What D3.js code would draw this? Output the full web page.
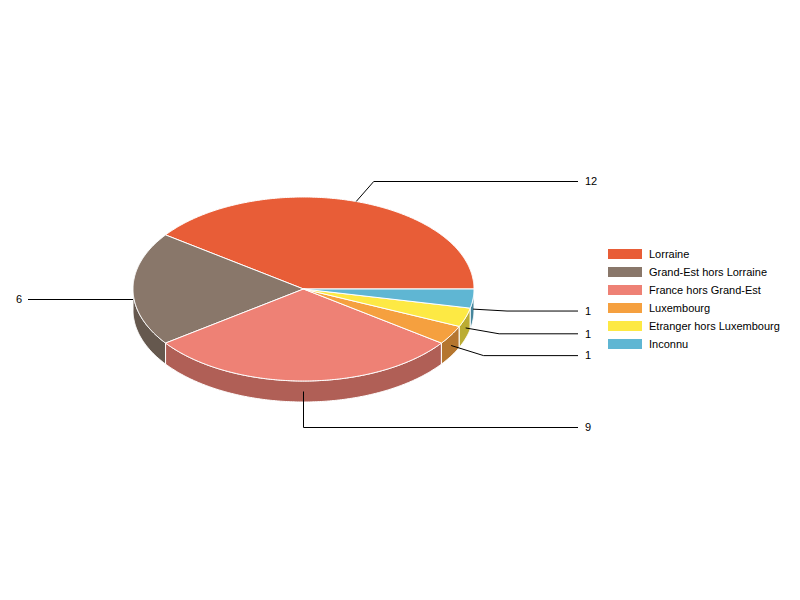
<!DOCTYPE html>
<html>
<head>
<meta charset="utf-8">
<script src="https://cdn.jsdelivr.net/npm/d3@7"></script>
<style>
  html, body { margin: 0; padding: 0; background: #fff; }
  text { font-family: "Liberation Sans", Arial, sans-serif; }
</style>
</head>
<body>
<svg id="chart" width="800" height="600"></svg>
<script>
// ---- data ----
const categories = ["Lorraine", "Grand-Est hors Lorraine", "France hors Grand-Est", "Luxembourg", "Etranger hors Luxembourg", "Inconnu"];
const values = [12, 6, 9, 1, 1, 1];
const colors = ["#E85D37", "#89776A", "#EE8175", "#F5A03F", "#FDE944", "#5FB6D3"];

// ---- layout ----
const W = 800, H = 600;
const cx = 303.5, cy = 289, rx = 170.5, ry = 92, depth = 21;
const svg = d3.select("#chart");

const data = categories.map((c, i) => ({ name: c, value: values[i], color: colors[i] }));

// d3.pie: angles measured clockwise from 12 o'clock; go counter-clockwise starting at 3 o'clock
const pie = d3.pie().value(d => d.value).sort(null)
  .startAngle(Math.PI / 2).endAngle(Math.PI / 2 - 2 * Math.PI);
const arcs = pie(data);

const toTheta = a => Math.PI / 2 - a; // math angle (ccw from east)
const pt = (t, dy = 0) => [cx + rx * Math.cos(t), cy - ry * Math.sin(t) + dy];
const sample = (t0, t1, dy = 0) => {
  const n = Math.max(2, Math.ceil(Math.abs(t1 - t0) / 0.01));
  return d3.range(n + 1).map(i => pt(t0 + (t1 - t0) * i / n, dy));
};
const line = d3.line();

// ---- side walls (front half only: theta in [PI, 2PI]) ----
const gSide = svg.append("g");
arcs.forEach(a => {
  const t0 = toTheta(a.startAngle), t1 = toTheta(a.endAngle);
  const s = Math.max(t0, Math.PI), e = Math.min(t1, 2 * Math.PI);
  if (e <= s) return;
  const top = sample(s, e, 0);
  const bot = sample(e, s, depth);
  gSide.append("path")
    .attr("d", line(top.concat(bot)) + "Z")
    .attr("fill", d3.color(a.data.color).darker(0.85))
    .attr("stroke", "#fff").attr("stroke-width", 1).attr("stroke-linejoin", "round");
});

// ---- top faces ----
const gTop = svg.append("g");
arcs.forEach(a => {
  const t0 = toTheta(a.startAngle), t1 = toTheta(a.endAngle);
  const pts = [[cx, cy]].concat(sample(t0, t1, 0));
  gTop.append("path")
    .attr("d", line(pts) + "Z")
    .attr("fill", a.data.color)
    .attr("stroke", "#fff").attr("stroke-width", 1).attr("stroke-linejoin", "round");
});

// ---- labels ----
const gLab = svg.append("g");
const rightX = 578, leftX = 28, L = 34;
arcs.forEach(a => {
  const t = (toTheta(a.startAngle) + toTheta(a.endAngle)) / 2;
  const sinT = Math.sin(t), cosT = Math.cos(t);
  const lower = sinT <= 1e-6;
  const anchor = pt(t, lower ? depth / 2 : 0);
  let nx = cosT, ny = -sinT * ry / rx;
  const nl = Math.hypot(nx, ny); nx /= nl; ny /= nl;
  let ex = anchor[0] + nx * L, ey = anchor[1] + ny * L;
  if (ny < 0) { // upper labels: limit rise, keep horizontal reach
    ey = anchor[1] - Math.min(20, Math.abs(ny) * L);
  }
  if (Math.abs(cosT) < 1e-6) { ex = anchor[0]; ey = anchor[1] + L + 2; }
  const right = cosT >= -1e-6;
  const endX = right ? rightX : leftX;
  gLab.append("path")
    .attr("d", line([anchor, [ex, ey], [endX, ey]]))
    .attr("fill", "none").attr("stroke", "#000").attr("stroke-width", 1);
  gLab.append("text")
    .attr("x", right ? endX + 7 : endX - 6)
    .attr("y", ey).attr("dy", "0.35em")
    .attr("text-anchor", right ? "start" : "end")
    .attr("font-size", 11).attr("fill", "#000")
    .text(a.data.value);
});

// ---- legend ----
const leg = svg.append("g").attr("transform", "translate(608,254)");
const legY = d3.scalePoint().domain(categories).range([0, 90]);
categories.forEach((c, i) => {
  const g = leg.append("g").attr("transform", `translate(0,${legY(c)})`);
  g.append("rect").attr("x", 0).attr("y", -5).attr("width", 34).attr("height", 10)
    .attr("fill", colors[i]);
  g.append("text").attr("x", 41).attr("y", 0).attr("dy", "0.35em")
    .attr("font-size", 11).attr("fill", "#000").text(c);
});
</script>
</body>
</html>
